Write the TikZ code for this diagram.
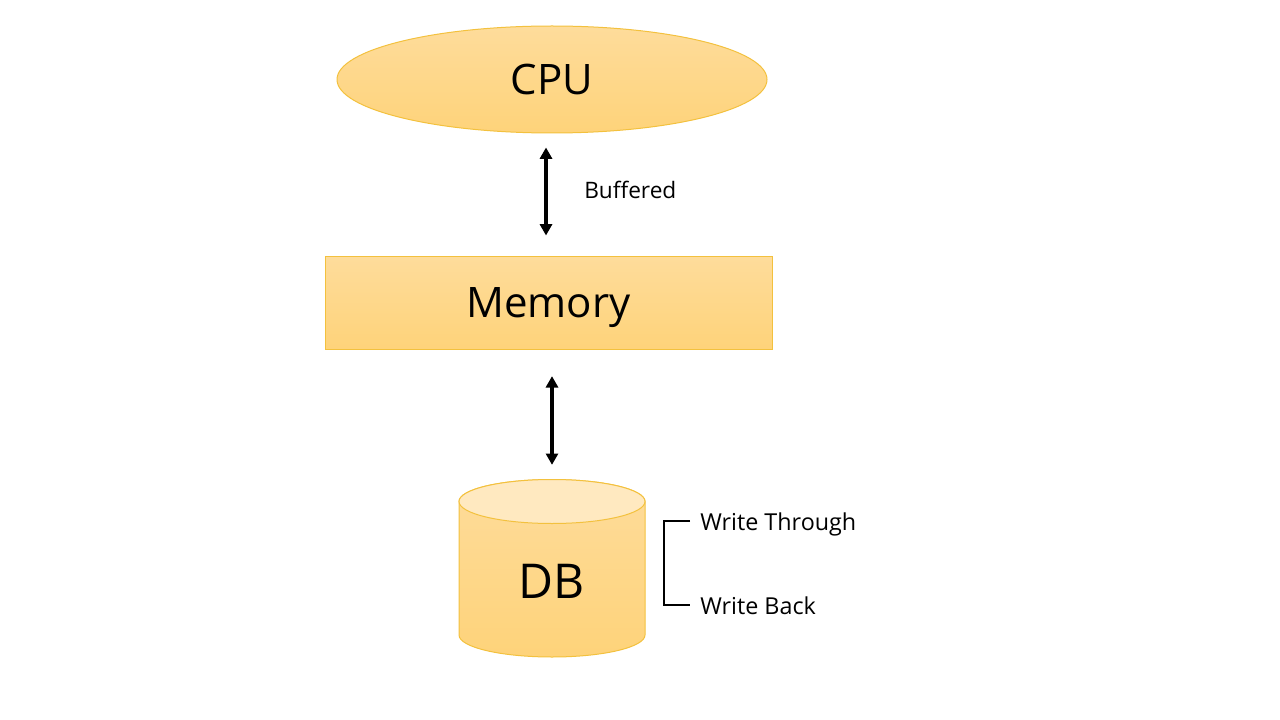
\documentclass[tikz,border=0pt]{standalone}
\usepackage{fontspec}
\setmainfont{Open Sans}
\usetikzlibrary{shapes.geometric,arrows.meta}
\definecolor{topc}{RGB}{254,220,155}
\definecolor{botc}{RGB}{254,211,122}
\definecolor{edgec}{RGB}{243,193,62}
\definecolor{capc}{RGB}{255,233,192}
\tikzset{
  x=0.75pt,y=-0.75pt,
  yellowfill/.style={top color=topc,bottom color=botc,draw=edgec,line width=0.75pt},
  bigtext/.style={font=\fontsize{31.5}{36}\selectfont},
  dbtext/.style={font=\fontsize{36}{40}\selectfont},
  smalltext/.style={font=\fontsize{17.5}{20}\selectfont,anchor=base west,inner sep=0pt},
  buftext/.style={font=\fontsize{17}{20}\selectfont,anchor=base west,inner sep=0pt},
  biarrow/.style={line width=2.4pt,{Triangle[length=8.5pt,width=9pt]}-{Triangle[length=8.5pt,width=9pt]}},
  bracketline/.style={line width=1.3pt}
}
\begin{document}
\begin{tikzpicture}
\useasboundingbox (0,0) rectangle (1280,720);
\node[ellipse,yellowfill,minimum width=430*0.75pt,minimum height=107*0.75pt,inner sep=0pt,bigtext] (cpu) at (552,79.5) {CPU};
\node[rectangle,yellowfill,minimum width=447*0.75pt,minimum height=93*0.75pt,inner sep=0pt,bigtext,text depth=0pt] (mem) at (548.5,302.5) {Memory};
% DB cylinder
\path[yellowfill] (459,501.5) -- (459,635) arc[start angle=180,end angle=0,x radius=93,y radius=22] -- (645,501.5) arc[start angle=0,end angle=-180,x radius=93,y radius=22] -- cycle;
\path[fill=capc,draw=edgec,line width=0.75pt] (552,501.5) ellipse[x radius=93,y radius=22];
\node[dbtext,inner sep=0pt] (db) at (552,581) {DB};
\coordinate (dbtop) at (552,479.5);
\coordinate (ax1) at (546,0);
\coordinate (ax2) at (552,0);
% arrows
\draw[biarrow] ([yshift=-10.5pt]cpu.south -| ax1) -- ([yshift=15pt]mem.north -| ax1);
\draw[biarrow] ([yshift=-20pt]mem.south -| ax2) -- ([yshift=11pt]dbtop);
\node[buftext] (buf) at (584,199) {Buffered};
% bracket
\node[smalltext] (wt) at (700,530) {Write Through};
\node[smalltext] (wb) at (700,614) {Write Back};
\draw[bracketline] ([shift={(-7.5pt,6.75pt)}]wt.base west) -- ++(-26*0.75pt,0) |- ([shift={(-7.5pt,6.75pt)}]wb.base west);
\end{tikzpicture}
\end{document}
